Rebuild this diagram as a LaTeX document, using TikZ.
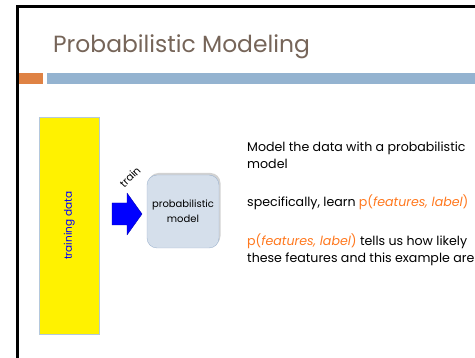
\documentclass[tikz,border=0pt]{standalone}
\usepackage{fontspec}
\setmainfont{Poppins}
\usepackage{tikz}
\usetikzlibrary{positioning}
\usetikzlibrary{shadows}
\definecolor{titlebrown}{RGB}{118,101,89}
\definecolor{barorange}{RGB}{223,130,68}
\definecolor{barblue}{RGB}{148,179,208}
\definecolor{hiorange}{RGB}{255,120,30}
\definecolor{boxfill}{RGB}{213,223,235}
\definecolor{boxline}{RGB}{160,182,208}
\definecolor{dataline}{RGB}{180,200,220}
\tikzset{body/.style = {anchor = base west, inner sep = 0, font = \fontsize{12.6}{17.5}\selectfont, align = left}}
\tikzset{modelbox/.style = {draw = boxline, fill = boxfill, rounded corners = 10, minimum width = 72, minimum height = 73, drop shadow = {opacity = 0.35, shadow xshift = 1.5, shadow yshift = -2}, align = center, font = \fontsize{10}{15}\selectfont}}
\newcommand{\hl}[1]{\textcolor{hiorange}{#1}}

\begin{document}
\begin{tikzpicture}[x = 1pt, y = -1pt]
    \useasboundingbox (0, 0) rectangle (475, 358);
    \fill [white] (0, 0) rectangle (475, 358);
    \draw [line width = 3] (17, 358) -- (17, 6.5) -- (475, 6.5);

    \node [anchor = base west, inner sep = 0, text = titlebrown, font = \fontsize{23.4}{28}\selectfont] (title) at (53, 53) {Probabilistic Modeling};
    \fill [barorange] (18.5, 73) rectangle (43, 84);
    \fill [barblue] (47, 73) rectangle (475, 84);

    \node [draw = dataline, fill = yellow, minimum width = 60, minimum height = 217, anchor = north west] (data) at (39, 117) {};
    \node [rotate = 90, text = blue, font = \fontsize{10.5}{12}\selectfont] (datalabel) at (data.center) {training data};

    % block arrow
    \draw [draw = blue!70!black, fill = blue, line join = round] (112, 203) -- (127, 203) -- (127, 193) -- (142, 214) -- (127, 235) -- (127, 225) -- (112, 225) -- cycle;
    \node [rotate = 45, inner sep = 1, font = \fontsize{10.5}{12}\selectfont] (trainlabel) at (130, 177) {train};

    \node [modelbox] (model) at (183, 211.5) {probabilistic\\model};

    \node [body] (p1) at (247, 169) {Model the data with a probabilistic\\model};
    \node [body] (p2) at (247, 207) {specifically, learn \hl{p(\textit{features, label})}};
    \node [body] (p3) at (247, 263) {\hl{p(\textit{features, label})} tells us how likely\\these features and this example are};
  \end{tikzpicture}
\end{document}
